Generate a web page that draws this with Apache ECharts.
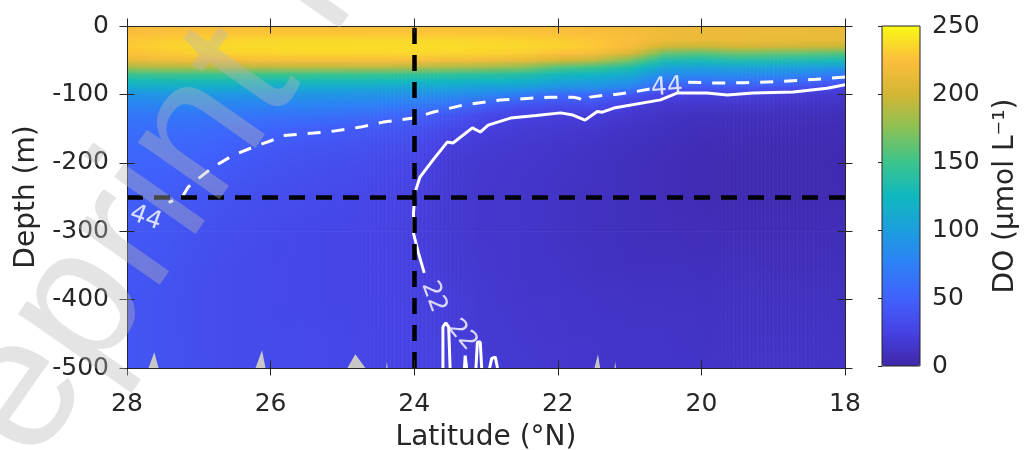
<!DOCTYPE html>
<html>
<head>
<meta charset="utf-8">
<title>DO section</title>
<script src="https://cdn.jsdelivr.net/npm/echarts@6/dist/echarts.min.js"></script>
<style>
  html, body { margin: 0; padding: 0; background: #fff; }
  #chart { width: 1025px; height: 450px; }
</style>
</head>
<body>
<div id="chart"></div>
<script>
// stations (°N) and depth levels (m)
const lats = [28, 27.5, 27, 26.5, 26, 25.5, 25, 24.5, 24, 23.5, 23, 22.5, 22, 21.5, 21, 20.5, 20, 19.5, 19, 18.5, 18]
const depths = [0, -10, -20, -30, -40, -50, -60, -70, -80, -90, -100, -115, -130, -150, -175, -200, -250, -300, -350, -400, -450, -500]

// DO profiles (µmol/L), one per station
const p280 = [220, 224, 228, 230, 226, 212, 185, 150, 128, 110, 92, 78, 66, 60, 55, 52, 47, 43, 41, 40, 40, 40]
const p275 = [221, 226, 231, 233, 229, 216, 188, 152, 130, 112, 93, 79, 67, 59, 54, 50, 45, 41, 39, 38, 38, 38]
const p270 = [222, 227, 233, 236, 232, 218, 188, 151, 130, 113, 93, 79, 67, 58, 52, 48, 41, 37, 35, 34, 34, 35]
const p265 = [222, 228, 234, 237, 233, 220, 190, 152, 131, 112, 94, 79, 67, 55, 48, 43, 37, 34, 32, 32, 32, 32]
const p260 = [222, 228, 235, 237, 234, 221, 191, 151, 130, 110, 93, 78, 65, 52, 43, 39, 34, 31, 30, 30, 31, 31]
const p255 = [222, 228, 235, 238, 235, 222, 192, 151, 130, 110, 93, 79, 64, 48, 40, 36, 32, 29, 29, 29, 30, 30]
const p250 = [222, 228, 235, 238, 235, 222, 192, 150, 129, 109, 92, 77, 61, 45, 38, 34, 30, 28, 28, 28, 29, 29]
const p245 = [222, 228, 235, 238, 235, 222, 191, 150, 128, 108, 91, 75, 56, 41, 35, 31, 27, 26, 26, 26, 27, 27]
const p240 = [222, 228, 235, 238, 235, 221, 189, 148, 126, 106, 89, 70, 49, 38, 31, 27, 23, 22, 23, 24, 25, 25]
const p235 = [222, 228, 235, 238, 234, 219, 186, 145, 124, 104, 86, 64, 40, 29, 21, 18, 17, 17, 18, 20, 21, 22]
const p230 = [222, 228, 234, 237, 233, 217, 182, 142, 122, 101, 82, 48, 30, 22, 18, 16, 15, 15, 16, 17, 18, 19]
const p225 = [222, 227, 233, 236, 231, 212, 175, 138, 120, 99, 72, 38, 24, 19, 16, 15, 14, 14, 14, 15, 16, 17]
const p220 = [221, 226, 231, 234, 226, 202, 158, 128, 108, 90, 56, 34, 22, 17, 14, 13, 12, 12, 13, 14, 15, 16]
const p215 = [220, 224, 228, 230, 220, 193, 150, 124, 104, 87, 55, 35, 21, 15, 12, 11, 10, 10, 11, 13, 14, 15]
const p210 = [218, 221, 224, 222, 205, 168, 135, 114, 95, 76, 42, 22, 15, 12, 10, 9, 9, 9, 10, 12, 13, 14]
const p205 = [215, 217, 215, 198, 162, 132, 107, 86, 66, 44, 25, 16, 12, 10, 8, 7, 7, 8, 10, 12, 13, 14]
const p200 = [214, 216, 214, 196, 158, 130, 104, 84, 64, 40, 23, 14, 10, 8, 6, 5, 5, 7, 9, 11, 12, 13]
const p195 = [214, 216, 214, 200, 164, 134, 107, 86, 66, 42, 23, 14, 9, 7, 5, 4, 4, 6, 9, 11, 12, 13]
const p190 = [214, 215, 213, 199, 162, 133, 105, 84, 62, 38, 20, 13, 9, 6, 4, 4, 4, 6, 8, 10, 12, 13]
const p185 = [213, 214, 212, 198, 160, 131, 101, 80, 56, 32, 18, 12, 8, 6, 4, 4, 4, 6, 8, 10, 12, 13]
const p180 = [213, 214, 211, 196, 157, 128, 97, 72, 46, 24, 16, 11, 8, 6, 5, 4, 5, 7, 9, 11, 12, 13]
const profiles = [p280, p275, p270, p265, p260, p255, p250, p245, p240, p235, p230, p225, p220, p215, p210, p205, p200, p195, p190, p185, p180]

// contour lines, [lat, depth]
const c44right = [[18.0, -74.6], [18.4, -78], [18.9, -81], [19.4, -83], [19.8, -83.4], [20.2, -82]]
const c44left = [[20.72, -92], [20.95, -96.6], [21.2, -100], [21.41, -102], [21.55, -104], [21.62, -111], [21.7, -106],
  [21.79, -104], [22.11, -104], [22.8, -108.3], [23.32, -115.6], [23.73, -125.8], [24.01, -134.6], [24.43, -140.5],
  [24.75, -147.8], [25.12, -153.7], [25.4, -156.6], [25.82, -160], [25.95, -166], [26.24, -177], [26.52, -188.8],
  [26.8, -206.3], [26.98, -221], [27.15, -235.6], [27.23, -250], [27.42, -258]]
const c22main = [[18.0, -86], [18.25, -91], [18.72, -96.6], [19.28, -98], [19.64, -101], [19.92, -98], [20.34, -98],
  [20.57, -108], [21.22, -120], [21.38, -126], [21.45, -125], [21.62, -137.6], [21.79, -130.2], [21.96, -127],
  [22.3, -131], [22.66, -134.6], [22.97, -144.9], [23.08, -155], [23.19, -149], [23.46, -171], [23.54, -169.7],
  [23.74, -196], [23.92, -221], [23.99, -244], [24.01, -273.6], [24.01, -303], [23.94, -332], [23.86, -361]]
const c22loop = [[23.6, -500], [23.6, -440], [23.56, -434], [23.52, -440], [23.5, -500]]
const c22spike = [[23.14, -500], [23.12, -462], [23.08, -462], [23.06, -500]]
const c22bump = [[22.95, -500], [22.92, -486], [22.87, -484], [22.84, -500]]
const c22thin = [[23.3, -500], [23.29, -482], [23.27, -500]]

// contour labels
const labelText = ['44', '44', '22', '22']
const labelLat = [20.48, 27.74, 23.73, 23.33]
const labelDepth = [-90, -281, -396, -452]
const labelAngle = [4, -20, -70, -50]

// no-data patches at the bottom: [lat left, lat peak, lat right, top depth]
const gapPatches = [[27.70, 27.62, 27.56, -477], [26.21, 26.12, 26.07, -474], [24.93, 24.82, 24.68, -480],
  [24.39, 24.38, 24.37, -490], [21.49, 21.44, 21.41, -480], [21.21, 21.2, 21.19, -490]]

// reference lines
const refLat = 24
const refDepth = -250

// colour scale (parula-like)
const doMin = 0
const doMax = 250
const parula = ['#3e26a8', '#4742e4', '#4062fc', '#2d80f6', '#1c9ede', '#10b8be', '#3cc48c', '#8cc155', '#d4b634', '#fcbe3c', '#f8fa14']

const font = 'DejaVu Sans'
const ink = '#262626'

// one cell between neighbouring stations/levels, corner values from the profiles
const cells = []
for (let i = 0; i < lats.length - 1; i++) {
  for (let j = 0; j < depths.length - 1; j++) {
    cells.push([lats[i], lats[i + 1], depths[j], depths[j + 1],
      profiles[i][j], profiles[i][j + 1], profiles[i + 1][j], profiles[i + 1][j + 1]])
  }
}
const toColor = v => echarts.color.lerp((v - doMin) / (doMax - doMin), parula)

const labelData = labelText.map((t, i) => ({
  name: t,
  value: [labelLat[i], labelDepth[i]],
  label: { rotate: labelAngle[i] }
}))

function xAx(opt) {
  return Object.assign({
    type: 'value', gridIndex: 0, min: 18, max: 28, interval: 2, inverse: true,
    axisLine: { show: false, onZero: false },
    axisTick: { show: false },
    axisLabel: { show: false },
    splitLine: { show: false },
    z: 5
  }, opt)
}
function yAx(opt) {
  return Object.assign({
    type: 'value', gridIndex: 0, min: -500, max: 0, interval: 100,
    axisLine: { show: false, onZero: false },
    axisTick: { show: false },
    axisLabel: { show: false },
    splitLine: { show: false },
    z: 5
  }, opt)
}
const lineOn = { show: true, onZero: false, lineStyle: { color: ink, width: 1 } }
const tickOn = { show: true, inside: false, length: 15, lineStyle: { color: ink, width: 1 } }

const chart = echarts.init(document.getElementById('chart'))
chart.setOption({
  animation: false,
  backgroundColor: '#fff',
  textStyle: { fontFamily: font },
  grid: [
    { left: 127, right: 180, top: 26, bottom: 82, containLabel: false, outerBoundsMode: 'none' },
    { left: 882, width: 38, top: 26, height: 340, containLabel: false, outerBoundsMode: 'none',
      show: true, borderColor: ink, borderWidth: 1, backgroundColor: 'transparent', z: 10 }
  ],
  visualMap: {
    type: 'continuous', min: doMin, max: doMax, seriesIndex: 0, dimension: 4,
    inRange: { color: parula },
    left: 882, top: 26, itemWidth: 38, itemHeight: 340, padding: 0,
    calculable: false, hoverLink: false
  },
  xAxis: [
    xAx({ position: 'bottom', axisLine: lineOn,
      axisLabel: { show: true, fontSize: 25, color: ink, margin: 24, fontFamily: font },
      name: 'Latitude (°N)', nameLocation: 'middle', nameGap: 56,
      nameTextStyle: { fontSize: 28, color: ink, fontFamily: font } }),
    xAx({ position: 'bottom', offset: -7.5, axisTick: tickOn }),
    xAx({ position: 'top', axisLine: lineOn }),
    xAx({ position: 'top', offset: -7.5, axisTick: tickOn }),
    { type: 'value', gridIndex: 1, show: false, min: 0, max: 1 }
  ],
  yAxis: [
    yAx({ position: 'left', axisLine: lineOn,
      axisLabel: { show: true, fontSize: 25, color: ink, margin: 18, fontFamily: font },
      name: 'Depth (m)', nameLocation: 'middle', nameGap: 86, nameRotate: 90,
      nameTextStyle: { fontSize: 28, color: ink, fontFamily: font } }),
    yAx({ position: 'left', offset: -7.5, axisTick: tickOn }),
    yAx({ position: 'right', axisLine: lineOn }),
    yAx({ position: 'right', offset: -7.5, axisTick: tickOn }),
    {
      type: 'value', gridIndex: 1, position: 'right', min: doMin, max: doMax, interval: 50, z: 10,
      axisLine: { show: false },
      axisTick: { show: true, inside: true, length: 4, lineStyle: { color: ink, width: 1 } },
      axisLabel: { fontSize: 25, color: ink, margin: 12, fontFamily: font },
      splitLine: { show: false },
      name: 'DO (μmol L⁻¹)', nameLocation: 'middle', nameGap: 72, nameRotate: 90,
      nameTextStyle: { fontSize: 28, color: ink, fontFamily: font }
    }
  ],
  series: [
    {
      // shaded section, each cell blended between its corner values
      type: 'custom', xAxisIndex: 0, yAxisIndex: 0, clip: true, silent: true, z: 1,
      encode: { x: [0, 1], y: [2, 3] },
      data: cells,
      renderItem: (params, api) => {
        const a = api.coord([api.value(0), api.value(2)])
        const b = api.coord([api.value(1), api.value(3)])
        const n = 9
        const children = []
        for (let k = 0; k < n; k++) {
          const t = (k + 0.5) / n
          const vTop = api.value(4) * (1 - t) + api.value(6) * t
          const vBot = api.value(5) * (1 - t) + api.value(7) * t
          const xa = a[0] + (b[0] - a[0]) * k / n
          const xb = a[0] + (b[0] - a[0]) * (k + 1) / n
          children.push({
            type: 'rect',
            shape: { x: Math.min(xa, xb), y: Math.min(a[1], b[1]), width: Math.abs(xb - xa) + 0.6, height: Math.abs(b[1] - a[1]) + 0.6 },
            style: { fill: new echarts.graphic.LinearGradient(0, 0, 0, 1, [
              { offset: 0, color: toColor(vTop) }, { offset: 1, color: toColor(vBot) }]) }
          })
        }
        return { type: 'group', children }
      }
    },
    {
      type: 'custom', xAxisIndex: 0, yAxisIndex: 0, clip: true, silent: true, z: 2,
      encode: { x: 1, y: 3 },
      data: gapPatches,
      renderItem: (params, api) => {
        const p0 = api.coord([api.value(0), -500])
        const p1 = api.coord([api.value(1), api.value(3)])
        const p2 = api.coord([api.value(2), -500])
        return { type: 'polygon', shape: { points: [p0, p1, p2] }, style: { fill: '#c8c8c8' } }
      }
    },
    ...[c44right, c44left].map(d => ({
      type: 'line', xAxisIndex: 0, yAxisIndex: 0, data: d, symbol: 'none', silent: true, z: 3,
      lineStyle: { color: '#fff', width: 3, type: [13, 11] }
    })),
    ...[c22main, c22loop, c22spike, c22bump, c22thin].map(d => ({
      type: 'line', xAxisIndex: 0, yAxisIndex: 0, data: d, symbol: 'none', silent: true, z: 3,
      lineStyle: { color: '#fff', width: 3 }
    })),
    {
      type: 'scatter', xAxisIndex: 0, yAxisIndex: 0, symbolSize: 1, silent: true, z: 4,
      itemStyle: { color: 'rgba(0,0,0,0)' },
      label: { show: true, position: 'inside', color: '#fff', fontSize: 25, fontFamily: font, formatter: p => p.name },
      data: labelData
    },
    {
      type: 'line', xAxisIndex: 0, yAxisIndex: 0, data: [], z: 4,
      markLine: {
        silent: true, symbol: ['none', 'none'], label: { show: false },
        lineStyle: { color: '#000', width: 4.5, type: [16, 11] },
        data: [{ xAxis: refLat }, { yAxis: refDepth }]
      }
    }
  ],
  graphic: [{
    // faint diagonal watermark
    type: 'text', x: -118, y: 591, rotation: 55 * Math.PI / 180, z: 100, silent: true,
    style: {
      text: 'Preprint not peer reviewed', font: '188px "Liberation Sans"',
      fill: 'rgba(185,185,185,0.38)', align: 'left', verticalAlign: 'middle',
      textAlign: 'left', textVerticalAlign: 'middle'
    }
  }]
})
</script>
</body>
</html>
